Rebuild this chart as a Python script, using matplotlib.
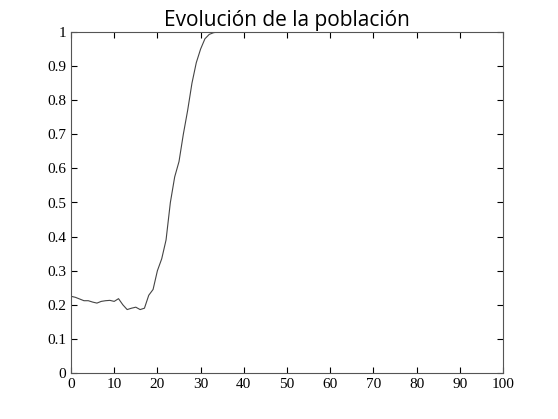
import matplotlib
matplotlib.use("Agg")
import matplotlib.pyplot as plt

x_early = list(range(0, 35))
y_early = [.225, .222, .217, .212, .212, .208, .205, .21, .212, .213, .21, .218, .2, .186, .19,
           .193, .186, .19, .228, .245, .3, .335, .39, .5, .575, .62, .7, .77, .85, .91, .95,
           .98, .993, .998, 1.0]
x_late = list(range(35, 101))
y_late = [1.0] * len(x_late)
xs = x_early + x_late
ys = y_early + y_late

fig = plt.figure(figsize=(5.58, 4.19), dpi=100)
ax = fig.add_axes([71/558, 1-373/419, 432/558, 341/419])
ax.plot(xs, ys, color="#444444", lw=0.8)
ax.set_xlim(0, 100)
ax.set_ylim(0, 1)
ax.set_xticks(range(0, 101, 10))
ax.set_yticks([i/10 for i in range(11)])
ax.set_yticklabels(["0"] + [f"{i/10:g}" for i in range(1, 10)] + ["1"])
ax.tick_params(direction="in", top=True, right=True, labelsize=11, length=4)
for l in ax.get_xticklabels() + ax.get_yticklabels():
    l.set_family("Liberation Serif")
for s in ax.spines.values():
    s.set_color("#555555")
ax.set_title("Evolución de la población", fontsize=15, family="Open Sans", pad=4)
fig.savefig("out.png", dpi=100)
